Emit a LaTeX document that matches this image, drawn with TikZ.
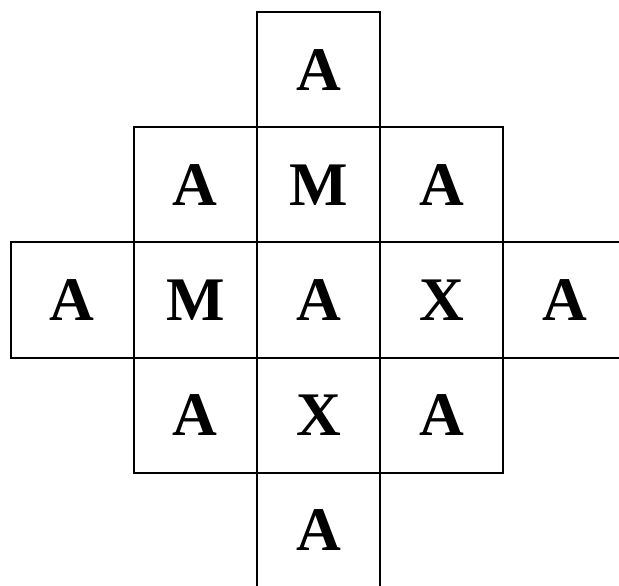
\documentclass[tikz,border=0pt]{standalone}
\usepackage{fontspec}
\setmainfont{Liberation Serif}
\usetikzlibrary{positioning}

\begin{document}
\begin{tikzpicture}[x=0.5pt,y=-0.5pt,node distance=0pt,
  cell/.style={draw,line width=1pt,outer sep=0pt,inner sep=0pt,
    minimum width=61.6pt,minimum height=57.6pt,
    font=\bfseries\fontsize{31}{31}\selectfont}]
\clip (0,0) rectangle (619,585);
% middle row
\node[cell] (c) at (318.5,300) {A};
\node[cell,left=of c] (w1) {M};
\node[cell,left=of w1] (w2) {A};
\node[cell,right=of c] (e1) {X};
\node[cell,right=of e1] (e2) {A};
% column through the centre
\node[cell,above=of c] (n1) {M};
\node[cell,above=of n1] (n2) {A};
\node[cell,below=of c] (s1) {X};
\node[cell,below=of s1] (s2) {A};
% corners
\node[cell,left=of n1] (nw) {A};
\node[cell,right=of n1] (ne) {A};
\node[cell,left=of s1] (sw) {A};
\node[cell,right=of s1] (se) {A};
\end{tikzpicture}
\end{document}
